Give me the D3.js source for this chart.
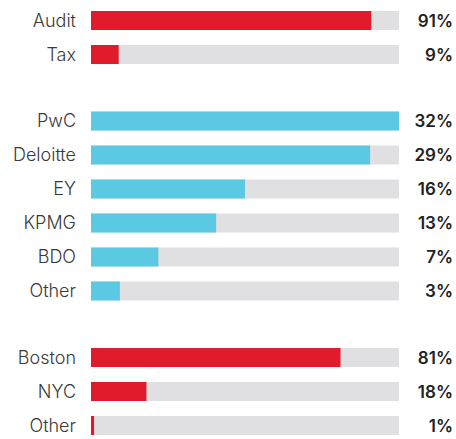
<!DOCTYPE html>
<html>
<head>
<meta charset="utf-8">
<script src="https://cdn.jsdelivr.net/npm/d3@7"></script>
<style>
  body { margin: 0; background: #fff; }
</style>
</head>
<body>
<script>
// groups of rows, top to bottom
var service_labels = ["Audit", "Tax"];
var service_values = [91, 9];

var firm_labels = ["PwC", "Deloitte", "EY", "KPMG", "BDO", "Other"];
var firm_values = [32, 29, 16, 13, 7, 3];

var office_labels = ["Boston", "NYC", "Other"];
var office_values = [81, 18, 1];

var red = "#e11a2c";
var cyan = "#5bc9e1";
var track = "#e0e0e2";

width = 456;
height = 439;
row_step = 34;
group_gap = 32.5;
bar_height = 19;
bar_left = 91;
bar_right = 399;

var groups = [
    { labels: service_labels, values: service_values, color: red, max: 100 },
    { labels: firm_labels, values: firm_values, color: cyan, max: d3.max(firm_values) },
    { labels: office_labels, values: office_values, color: red, max: 100 }
];

// flatten into rows with a running slot index
var rows = [];
var slot = 0;
groups.forEach(function(g, gi) {
    g.labels.forEach(function(label, i) {
        rows.push({ label: label, value: g.values[i], color: g.color, max: g.max, slot: slot, group: gi });
        slot++;
    });
});

var y = d3.scaleLinear()
    .domain([0, 1])
    .range([20.5, 20.5 + row_step]);

function row_y(d) { return y(d.slot) + d.group * group_gap; }

var svg = d3.select('body')
    .append('svg')
    .attr('width', width)
    .attr('height', height);

var row = svg.selectAll('g.row').data(rows).enter()
    .append('g')
    .attr('class', 'row')
    .attr('transform', function(d) { return `translate(0, ${row_y(d)})`; });

row.append('rect')
    .attr('x', bar_left)
    .attr('y', -bar_height / 2)
    .attr('width', bar_right - bar_left)
    .attr('height', bar_height)
    .attr('fill', track);

row.append('rect')
    .attr('x', bar_left)
    .attr('y', -bar_height / 2)
    .attr('width', function(d) {
        var x = d3.scaleLinear().domain([0, d.max]).range([0, bar_right - bar_left]);
        return x(d.value);
    })
    .attr('height', bar_height)
    .attr('fill', function(d) { return d.color; });

row.append('text')
    .attr('x', 76)
    .attr('dy', '0.36em')
    .style('text-anchor', 'end')
    .style('font-family', 'Inter, sans-serif')
    .style('font-size', '18px')
    .style('font-weight', 300)
    .style('fill', '#3a3a3a')
    .text(function(d) { return d.label; });

row.append('text')
    .attr('x', 453)
    .attr('dy', '0.36em')
    .style('text-anchor', 'end')
    .style('font-family', 'Inter, sans-serif')
    .style('font-size', '17px')
    .style('font-weight', 600)
    .style('fill', '#222')
    .text(function(d) { return d.value + '%'; });
</script>
</body>
</html>
